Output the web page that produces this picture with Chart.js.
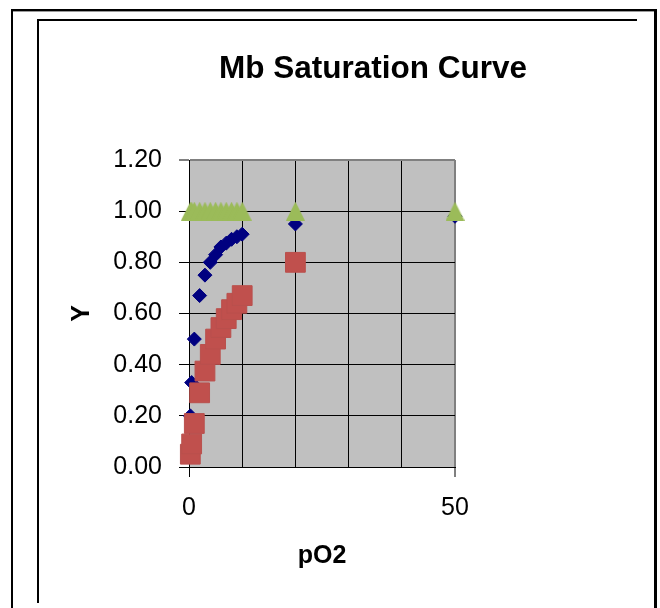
<!DOCTYPE html>
<html>
<head>
<meta charset="utf-8">
<title>Mb Saturation Curve</title>
<script src="https://cdn.jsdelivr.net/npm/chart.js@4"></script>
<style>
    html, body { margin: 0; padding: 0; background: #fff; overflow: hidden; }
    #wrap { position: relative; width: 660px; height: 608px; }
    #wrap canvas { position: absolute; left: 0; top: 0; }
    .ln { position: absolute; background: #000; }
</style>
</head>
<body>
<div id="wrap">
    <canvas id="satChart" width="660" height="608"></canvas>
    <!-- sheet frame -->
    <div class="ln" style="left:11px;top:9px;width:646px;height:2px"></div>
    <div class="ln" style="left:13px;top:11px;width:641px;height:1px;background:#9a9a9a"></div>
    <div class="ln" style="left:11px;top:9px;width:2px;height:600px"></div>
    <div class="ln" style="left:654px;top:9px;width:3px;height:600px"></div>
    <div class="ln" style="left:37px;top:19px;width:600px;height:2px"></div>
    <div class="ln" style="left:37px;top:19px;width:2px;height:584px"></div>
</div>
<script>
(function () {
    "use strict";

    var chartTitle = 'Mb Saturation Curve';
    var xTitle = 'pO2';
    var yTitle = 'Y';

    // pO2 values, blue series (Mb)
    var pO2 = [0.25, 0.5, 1, 2, 3, 4, 5, 6, 7, 8, 9, 10, 20, 50];
    var yMb = [0.20, 0.33, 0.50, 0.67, 0.75, 0.80, 0.83, 0.86, 0.875, 0.89, 0.90, 0.91, 0.95, 0.98];

    // red series (lower affinity)
    var pO2Low = [0.25, 0.5, 1, 2, 3, 4, 5, 6, 7, 8, 9, 10, 20];
    var yLow = [0.05, 0.09, 0.17, 0.29, 0.375, 0.44, 0.50, 0.545, 0.58, 0.615, 0.64, 0.67, 0.80];

    // green series (fully saturated)
    var pO2Full = [0.25, 0.5, 1, 2, 3, 4, 5, 6, 7, 8, 9, 10, 20, 50];
    var yFull = [1, 1, 1, 1, 1, 1, 1, 1, 1, 1, 1, 1, 1, 1];

    var xTickLabels = [0, 50];
    var yTickValues = [0, 0.2, 0.4, 0.6, 0.8, 1.0, 1.2];

    function toPoints(xs, ys) {
        return xs.map(function (x, i) { return { x: x, y: ys[i] }; });
    }

    // excel style triangle, centred on its bounding box
    function triangleMarker(w, h, color) {
        var c = document.createElement('canvas');
        c.width = w;
        c.height = h;
        var g = c.getContext('2d');
        g.fillStyle = color;
        g.beginPath();
        g.moveTo(w / 2, 0);
        g.lineTo(w, h);
        g.lineTo(0, h);
        g.closePath();
        g.fill();
        return c;
    }

    var font = '"Liberation Sans", Arial, sans-serif';

    var plotBackground = {
        id: 'plotBackground',
        beforeDraw: function (chart) {
            var a = chart.chartArea;
            var ctx = chart.ctx;
            ctx.save();
            ctx.fillStyle = '#C0C0C0';
            ctx.fillRect(a.left, a.top, a.right - a.left, a.bottom - a.top);
            ctx.restore();
        }
    };

    var sheetTitle = {
        id: 'sheetTitle',
        afterDraw: function (chart) {
            var ctx = chart.ctx;
            ctx.save();
            ctx.font = 'bold 31.5px ' + font;
            ctx.fillStyle = '#000';
            ctx.textAlign = 'center';
            ctx.textBaseline = 'middle';
            ctx.fillText(chartTitle, 373, 69);
            ctx.restore();
        }
    };

    var ctx = document.getElementById('satChart').getContext('2d');
    new Chart(ctx, {
        type: 'scatter',
        data: {
            datasets: [
                {
                    label: 'Mb',
                    data: toPoints(pO2, yMb),
                    pointStyle: 'rectRot',
                    pointRadius: 7,
                    backgroundColor: '#000080',
                    borderColor: '#000080',
                    borderWidth: 1,
                    clip: false,
                    order: 3
                },
                {
                    label: 'low',
                    data: toPoints(pO2Low, yLow),
                    pointStyle: 'rect',
                    pointRadius: 14,
                    backgroundColor: '#C0504D',
                    borderColor: '#B9504D',
                    borderWidth: 1,
                    clip: false,
                    order: 2
                },
                {
                    label: 'full',
                    data: toPoints(pO2Full, yFull),
                    pointStyle: triangleMarker(19, 19, '#9BBB59'),
                    pointRadius: 10,
                    backgroundColor: '#9BBB59',
                    borderColor: '#9BBB59',
                    clip: false,
                    order: 1
                }
            ]
        },
        options: {
            responsive: false,
            devicePixelRatio: 1,
            animation: false,
            events: [],
            layout: { padding: { left: 40, right: 205, top: 160, bottom: 20 } },
            plugins: {
                legend: { display: false },
                tooltip: { enabled: false },
                title: { display: false }
            },
            scales: {
                x: {
                    type: 'linear',
                    position: 'bottom',
                    min: 0,
                    max: 50,
                    afterFit: function (scale) { scale.height = 121; },
                    ticks: {
                        stepSize: 10,
                        autoSkip: false,
                        maxRotation: 0,
                        padding: 16,
                        color: '#000',
                        font: { family: font, size: 25 },
                        callback: function (v) {
                            return xTickLabels.indexOf(v) >= 0 ? String(v) : '';
                        }
                    },
                    grid: {
                        color: function (c) {
                            return c.tick && c.tick.value === 50 ? '#808080' : '#000';
                        },
                        lineWidth: function (c) {
                            return c.tick && c.tick.value === 50 ? 2 : 1;
                        },
                        tickColor: function (c) {
                            return c.tick && xTickLabels.indexOf(c.tick.value) >= 0 ? '#000' : 'rgba(0,0,0,0)';
                        },
                        tickLength: 10,
                        tickWidth: 1
                    },
                    border: { color: '#000', width: 1 },
                    title: {
                        display: true,
                        text: xTitle,
                        color: '#000',
                        font: { family: font, size: 25, weight: 'bold' },
                        padding: { top: 0, bottom: 17 }
                    }
                },
                y: {
                    type: 'linear',
                    min: 0,
                    max: 1.2,
                    afterFit: function (scale) { scale.width = 149; },
                    afterBuildTicks: function (scale) {
                        scale.ticks = yTickValues.map(function (v) { return { value: v }; });
                    },
                    ticks: {
                        padding: 17,
                        color: '#000',
                        font: { family: font, size: 25 },
                        callback: function (v) { return Number(v).toFixed(2); }
                    },
                    grid: {
                        color: function (c) {
                            return c.tick && Math.abs(c.tick.value - 1.2) < 1e-9 ? '#808080' : '#000';
                        },
                        lineWidth: function (c) {
                            return c.tick && Math.abs(c.tick.value - 1.2) < 1e-9 ? 2 : 1;
                        },
                        tickColor: '#000',
                        tickLength: 10,
                        tickWidth: 1
                    },
                    border: { color: '#000', width: 1 },
                    title: {
                        display: true,
                        text: yTitle,
                        color: '#000',
                        font: { family: font, size: 25, weight: 'bold' },
                        padding: { top: 27, bottom: 0 }
                    }
                }
            }
        },
        plugins: [plotBackground, sheetTitle]
    });
}());
</script>
</body>
</html>
